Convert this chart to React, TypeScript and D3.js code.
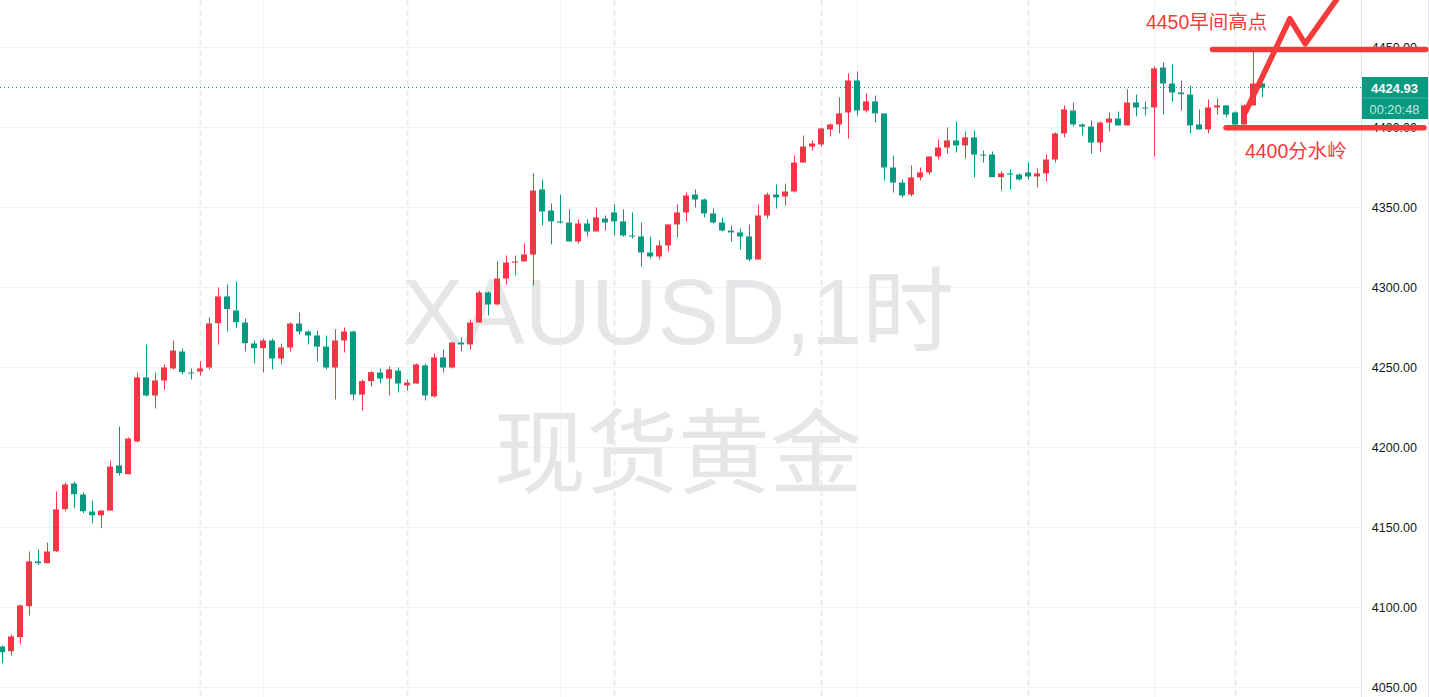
import React from 'react';
import * as d3 from 'd3';

const W = 1429;
const H = 697;

// OHLC of XAUUSD 1h candles
const opens = [
  4075.6, 4072.7, 4081.5, 4100.8, 4128.8, 4127.7, 4135.2, 4161.5, 4177.5, 4170.6,
  4160.0, 4157.7, 4160.6, 4188.8, 4183.3, 4203.8, 4243.8, 4232.5, 4241.9, 4249.4,
  4260.0, 4246.9, 4247.5, 4250.0, 4277.7, 4294.4, 4285.6, 4278.1, 4265.0, 4262.1,
  4266.9, 4255.6, 4262.5, 4277.5, 4272.5, 4270.0, 4263.1, 4250.0, 4266.9, 4272.5,
  4233.1, 4241.5, 4246.9, 4243.1, 4248.1, 4238.8, 4240.0, 4251.3, 4231.9, 4256.3,
  4250.0, 4265.6, 4264.4, 4278.1, 4296.9, 4289.4, 4305.6, 4315.6, 4316.3, 4320.6,
  4361.3, 4348.1, 4341.3, 4340.6, 4328.8, 4340.0, 4335.0, 4343.1, 4346.9, 4341.3,
  4332.5, 4331.9, 4321.9, 4319.4, 4326.3, 4339.4, 4346.9, 4358.1, 4355.0, 4346.3,
  4340.6, 4335.6, 4334.4, 4331.9, 4317.5, 4345.0, 4358.1, 4356.9, 4360.0, 4378.1,
  4388.1, 4389.4, 4398.8, 4401.9, 4409.4, 4429.4, 4410.6, 4416.3, 4408.8, 4375.0,
  4365.6, 4358.1, 4368.8, 4371.9, 4381.9, 4387.5, 4391.9, 4388.8, 4393.8, 4383.1,
  4383.1, 4369.0, 4371.3, 4370.6, 4371.9, 4369.4, 4371.3, 4380.0, 4396.3, 4410.6,
  4401.9, 4400.6, 4390.6, 4403.1, 4405.6, 4401.3, 4415.6, 4412.5, 4412.5, 4437.5,
  4427.5, 4421.9, 4420.6, 4401.9, 4398.8, 4412.5, 4413.8, 4409.4, 4401.9, 4413.8,
  4427.5,
];
const highs = [
  4076.3, 4083.1, 4101.9, 4135.0, 4136.3, 4140.6, 4172.5, 4178.1, 4178.8, 4171.9,
  4166.9, 4160.6, 4191.9, 4213.1, 4206.3, 4246.9, 4264.4, 4246.9, 4251.9, 4266.9,
  4261.9, 4249.4, 4253.8, 4281.3, 4300.0, 4301.9, 4303.8, 4280.6, 4266.9, 4268.1,
  4268.1, 4265.0, 4278.1, 4284.4, 4273.1, 4273.1, 4270.0, 4273.8, 4275.0, 4273.1,
  4242.5, 4247.7, 4249.4, 4250.6, 4250.0, 4242.5, 4252.5, 4252.5, 4258.8, 4261.3,
  4265.6, 4268.8, 4280.0, 4298.1, 4297.5, 4316.3, 4320.0, 4320.0, 4327.5, 4371.3,
  4367.5, 4352.5, 4358.1, 4348.8, 4342.5, 4342.5, 4350.0, 4345.0, 4351.9, 4348.8,
  4346.9, 4340.6, 4331.9, 4329.4, 4339.4, 4351.9, 4359.4, 4361.3, 4355.6, 4349.4,
  4343.8, 4338.8, 4336.9, 4339.4, 4351.9, 4359.4, 4364.4, 4365.0, 4382.5, 4395.0,
  4391.9, 4400.0, 4402.5, 4418.8, 4433.8, 4435.0, 4421.3, 4420.0, 4408.8, 4382.5,
  4367.5, 4376.3, 4375.0, 4381.9, 4392.5, 4400.0, 4403.8, 4397.5, 4398.1, 4385.6,
  4385.0, 4372.5, 4373.8, 4371.3, 4378.1, 4374.4, 4383.1, 4396.9, 4413.8, 4415.6,
  4402.5, 4404.4, 4403.8, 4409.4, 4410.0, 4423.8, 4420.6, 4416.3, 4438.1, 4440.6,
  4439.4, 4429.4, 4426.3, 4411.3, 4417.5, 4418.1, 4413.8, 4410.0, 4414.4, 4448.1,
  4427.7,
];
const lows = [
  4065.2, 4070.0, 4077.1, 4095.0, 4126.5, 4127.7, 4134.6, 4160.2, 4162.1, 4159.0,
  4152.7, 4149.6, 4160.6, 4182.5, 4183.3, 4203.1, 4231.9, 4224.4, 4236.3, 4248.8,
  4245.8, 4242.5, 4245.0, 4248.8, 4264.4, 4272.5, 4274.6, 4260.0, 4252.5, 4246.9,
  4248.8, 4251.9, 4260.0, 4270.6, 4264.4, 4253.8, 4248.8, 4230.0, 4259.4, 4229.4,
  4223.1, 4238.1, 4240.0, 4232.5, 4234.4, 4235.6, 4240.0, 4229.4, 4231.3, 4246.9,
  4249.4, 4260.0, 4261.3, 4278.1, 4282.5, 4288.8, 4301.9, 4307.5, 4316.3, 4301.3,
  4338.8, 4326.9, 4340.0, 4328.8, 4327.5, 4331.9, 4335.0, 4335.6, 4332.5, 4331.9,
  4330.6, 4313.1, 4318.1, 4317.5, 4322.5, 4331.3, 4341.3, 4350.0, 4343.8, 4340.0,
  4335.0, 4328.8, 4323.8, 4316.3, 4317.5, 4343.1, 4349.4, 4351.3, 4359.4, 4378.1,
  4385.6, 4388.1, 4394.4, 4396.3, 4393.1, 4407.5, 4409.4, 4403.1, 4366.9, 4359.4,
  4356.3, 4356.9, 4366.9, 4370.6, 4380.0, 4383.8, 4384.4, 4380.6, 4368.8, 4378.1,
  4369.0, 4360.6, 4361.3, 4366.9, 4367.5, 4362.5, 4366.5, 4378.1, 4393.8, 4400.6,
  4395.0, 4383.8, 4385.0, 4397.5, 4401.3, 4401.3, 4406.9, 4407.5, 4381.9, 4408.1,
  4416.3, 4410.6, 4396.3, 4398.8, 4396.3, 4408.1, 4406.3, 4401.3, 4401.3, 4413.8,
  4419.0,
];
const closes = [
  4072.1, 4081.9, 4101.3, 4128.8, 4127.7, 4135.0, 4161.3, 4176.9, 4170.8, 4160.2,
  4157.7, 4160.6, 4188.1, 4184.0, 4205.6, 4243.8, 4232.5, 4241.9, 4250.0, 4260.6,
  4247.1, 4246.3, 4249.4, 4277.5, 4294.4, 4286.5, 4278.3, 4265.2, 4262.1, 4266.9,
  4255.6, 4262.5, 4277.5, 4272.5, 4270.0, 4263.1, 4250.0, 4266.9, 4272.5, 4233.1,
  4241.5, 4247.1, 4243.1, 4248.8, 4240.0, 4240.6, 4251.9, 4232.5, 4256.3, 4250.0,
  4265.6, 4264.4, 4278.1, 4296.9, 4289.4, 4305.6, 4315.6, 4316.3, 4320.6, 4360.6,
  4347.5, 4341.3, 4340.6, 4328.8, 4340.0, 4335.0, 4343.8, 4340.6, 4341.3, 4332.5,
  4331.9, 4321.9, 4319.4, 4326.3, 4339.4, 4346.9, 4357.5, 4355.0, 4346.3, 4340.6,
  4335.6, 4334.4, 4331.9, 4317.5, 4345.0, 4358.1, 4356.3, 4360.0, 4378.1, 4388.1,
  4390.0, 4399.4, 4401.9, 4408.8, 4429.4, 4410.6, 4416.3, 4408.8, 4375.0, 4365.6,
  4357.5, 4368.8, 4371.9, 4381.9, 4387.5, 4391.9, 4388.8, 4393.8, 4383.1, 4382.5,
  4369.0, 4371.3, 4370.6, 4367.5, 4369.4, 4371.3, 4380.0, 4396.3, 4411.3, 4401.9,
  4400.6, 4390.6, 4403.1, 4405.6, 4401.3, 4415.6, 4412.5, 4411.9, 4436.9, 4427.5,
  4421.9, 4420.8, 4401.3, 4398.8, 4412.5, 4413.8, 4408.1, 4401.9, 4413.8, 4427.5,
  4424.93,
];

const priceTicks = [4050, 4100, 4150, 4200, 4250, 4300, 4350, 4400, 4450];
const sessionBreaks = [22, 45, 68, 91, 114, 137];
const timeGrid = [29, 62, 95, 128];
const lastPrice = 4424.93;
const countdown = '00:20:48';
const watermarkLines = ['XAUUSD,1时', '现货黄金'];

// hand-drawn annotations (bar index, price)
const highLine = { from: 134.5, to: 158.2, price: 4448.8 };
const pivotLine = { from: 136.0, to: 158.0, price: 4399.9 };
const arrowPoints: [number, number][] = [
  [138.2, 4410.0],
  [143.1, 4468.0],
  [144.8, 4452.3],
  [148.8, 4484.0],
];
const annotationTexts = [
  { text: '4450早间高点', idx: 127.1, price: 4461.6 },
  { text: '4400分水岭', idx: 138.1, price: 4381.0 },
];

const UP = '#f23645';
const DOWN = '#089981';
const DRAW = '#f53a3c';

export default function App() {
  const x = d3.scaleLinear().domain([0, 140]).range([2, 1262]);
  const y = d3.scaleLinear().domain([4050, 4450]).range([687.5, 47.5]);
  const plotRight = 1361;
  const fmt = d3.format('.2f');

  const candles = opens.map((o, i) => ({
    i,
    o,
    h: highs[i],
    l: lows[i],
    c: closes[i],
  }));

  const arrowLine = d3
    .line<[number, number]>()
    .x((d) => x(d[0]))
    .y((d) => y(d[1]))
    .curve(d3.curveLinear);

  const py = y(lastPrice);
  const pyRow = Math.floor(py) + 0.5;
  const boxTop = Math.floor(py) - 10;

  const font = '"Liberation Sans", Arial, "Noto Sans CJK SC", sans-serif';

  return (
    <svg
      width={W}
      height={H}
      style={{ position: 'absolute', left: 0, top: 0, background: '#fff' }}
      fontFamily={font}
    >
      {/* horizontal grid */}
      {priceTicks.map((t) => (
        <line key={'h' + t} x1={0} x2={plotRight} y1={y(t)} y2={y(t)} stroke="#f0f3fa" strokeWidth={1} />
      ))}
      {/* vertical time grid */}
      {timeGrid.map((t) => (
        <line key={'v' + t} x1={x(t) + 0.5} x2={x(t) + 0.5} y1={0} y2={H} stroke="#f0f3fa" strokeWidth={1} />
      ))}
      {/* session breaks */}
      {sessionBreaks.map((t) => (
        <line
          key={'s' + t}
          x1={x(t) + 0.5}
          x2={x(t) + 0.5}
          y1={0}
          y2={H}
          stroke="#ebecf0"
          strokeWidth={2}
          strokeDasharray="6 4"
        />
      ))}

      {/* watermark */}
      <g fill="#e6e6e9" textAnchor="middle">
        <text x={678} y={344} fontSize={92}>
          {watermarkLines[0]}
        </text>
        <text x={678} y={486} fontSize={92}>
          {watermarkLines[1]}
        </text>
      </g>

      {/* candles */}
      {candles.map((d) => {
        const up = d.c >= d.o;
        const col = up ? UP : DOWN;
        const cx = x(d.i);
        const top = y(Math.max(d.o, d.c));
        const bot = y(Math.min(d.o, d.c));
        return (
          <g key={d.i} fill={col}>
            <rect x={cx} y={y(d.h)} width={1} height={Math.max(1, y(d.l) - y(d.h))} />
            <rect x={cx - 3} y={top} width={6} height={Math.max(1, bot - top)} />
          </g>
        );
      })}

      {/* last price dotted line */}
      <line x1={0} x2={plotRight} y1={pyRow} y2={pyRow} stroke={DOWN} strokeWidth={1} strokeDasharray="1 3" />

      {/* price axis */}
      <line x1={plotRight + 0.5} x2={plotRight + 0.5} y1={0} y2={H} stroke="#e0e3eb" />
      <line x1={W - 0.5} x2={W - 0.5} y1={0} y2={H} stroke="#e0e3eb" />
      {priceTicks.map((t) => (
        <text key={'l' + t} x={1417} y={y(t)} fontSize={12.5} fill="#131722" textAnchor="end" dominantBaseline="central">
          {fmt(t)}
        </text>
      ))}

      {/* last price label */}
      <rect x={plotRight + 1} y={boxTop} width={W - plotRight - 2} height={42} fill={DOWN} />
      <line x1={plotRight + 1} x2={W - 1} y1={boxTop + 21} y2={boxTop + 21} stroke="rgba(255,255,255,0.25)" />
      <text x={1394.5} y={boxTop + 11} fontSize={13} fontWeight="bold" fill="#fff" textAnchor="middle" dominantBaseline="central">
        {fmt(lastPrice)}
      </text>
      <text x={1394.5} y={boxTop + 32} fontSize={12.8} fill="rgba(255,255,255,0.78)" textAnchor="middle" dominantBaseline="central">
        {countdown}
      </text>

      {/* hand drawings */}
      <g stroke={DRAW} strokeWidth={5.5} strokeLinecap="round" strokeLinejoin="round" fill="none">
        <line x1={x(highLine.from)} x2={x(highLine.to)} y1={y(highLine.price)} y2={y(highLine.price)} />
        <line x1={x(pivotLine.from)} x2={x(pivotLine.to)} y1={y(pivotLine.price)} y2={y(pivotLine.price)} />
        <path d={arrowLine(arrowPoints) || ''} />
      </g>
      {annotationTexts.map((a) => (
        <text key={a.text} x={x(a.idx)} y={y(a.price)} fontSize={19.5} fill={DRAW}>
          {a.text}
        </text>
      ))}
    </svg>
  );
}
